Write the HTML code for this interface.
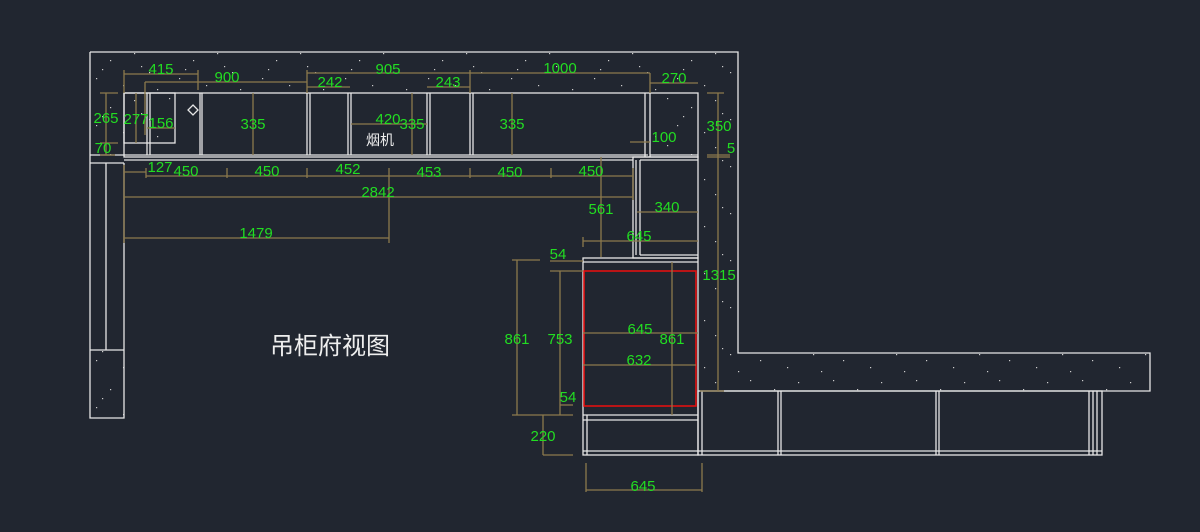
<!DOCTYPE html>
<html><head><meta charset="utf-8"><style>
html,body{margin:0;padding:0;background:#212630;}
svg{display:block}
text{font-family:"Liberation Sans","Noto Sans CJK SC",sans-serif;}
.g{fill:#22dd22;font-size:15px;text-anchor:middle}
.w{stroke:#e6e6e6;stroke-width:1.3;fill:none}
.d{stroke:#8c7a4c;stroke-width:1.3;fill:none}
</style></head><body>
<svg width="1200" height="532" viewBox="0 0 1200 532" xmlns="http://www.w3.org/2000/svg">
<defs>
<pattern id="sp" width="83" height="47" patternUnits="userSpaceOnUse">
<rect x="3" y="4" width="1.2" height="1.2" fill="#ccc"/>
<rect x="27" y="13" width="1.2" height="1.2" fill="#ccc"/>
<rect x="51" y="6" width="1.2" height="1.2" fill="#ccc"/>
<rect x="13" y="31" width="1.2" height="1.2" fill="#ccc"/>
<rect x="40" y="38" width="1.2" height="1.2" fill="#ccc"/>
<rect x="66" y="25" width="1.2" height="1.2" fill="#ccc"/>
<rect x="74" y="42" width="1.2" height="1.2" fill="#ccc"/>
<rect x="58" y="19" width="1.2" height="1.2" fill="#ccc"/>
<rect x="19" y="22" width="1.2" height="1.2" fill="#ccc"/>
</pattern>
</defs>
<rect width="1200" height="532" fill="#212630"/>
<path d="M90,52 H738 V353 H1150 V391 H698 V93 H124 V155 H90 Z" fill="url(#sp)"/>
<rect x="90" y="350" width="34" height="68" fill="url(#sp)"/>
<rect x="124" y="93" width="51" height="50" fill="url(#sp)"/>
<rect x="650" y="93" width="48" height="64" fill="url(#sp)"/>
<path class="w" d="M90,52 H738 V353 H1150 V391 H700"/>
<path class="w" d="M90,52 V418 H124 V163"/>
<line class="w" x1="106" y1="163" x2="106" y2="350"/>
<line class="w" x1="90" y1="350" x2="124" y2="350"/>
<line class="w" x1="90" y1="163" x2="124" y2="163"/>
<line class="w" x1="90" y1="155" x2="124" y2="155"/>
<rect class="w" x="124" y="93" width="574" height="64"/>
<line class="w" x1="124" y1="155" x2="648" y2="155"/>
<line class="w" x1="124" y1="160" x2="633" y2="160"/>
<rect class="w" x="124" y="93" width="51" height="50"/>
<g class="w">
<line x1="147" y1="93" x2="147" y2="155"/><line x1="150" y1="93" x2="150" y2="155"/>
<line x1="200" y1="93" x2="200" y2="155"/><line x1="202" y1="93" x2="202" y2="155"/>
<line x1="307" y1="93" x2="307" y2="155"/><line x1="310" y1="93" x2="310" y2="155"/>
<line x1="348" y1="93" x2="348" y2="155"/><line x1="351" y1="93" x2="351" y2="155"/>
<line x1="427" y1="93" x2="427" y2="155"/><line x1="430" y1="93" x2="430" y2="155"/>
<line x1="470" y1="93" x2="470" y2="155"/><line x1="473" y1="93" x2="473" y2="155"/>
<line x1="645" y1="93" x2="645" y2="157"/><line x1="650" y1="93" x2="650" y2="157"/>
<line x1="650" y1="155" x2="698" y2="155"/>
</g>
<path class="w" d="M193,105 L198,110 L193,115 L188,110 Z"/>
<rect class="w" x="633" y="157" width="65" height="101"/>
<line class="w" x1="636" y1="160" x2="636" y2="255"/>
<line class="w" x1="640" y1="160" x2="640" y2="255"/>
<line class="w" x1="640" y1="160" x2="698" y2="160"/>
<line class="w" x1="640" y1="255" x2="698" y2="255"/>
<rect class="w" x="583" y="258" width="115" height="197"/>
<line class="w" x1="583" y1="262" x2="698" y2="262"/>
<line class="w" x1="583" y1="415" x2="698" y2="415"/>
<line class="w" x1="583" y1="420" x2="698" y2="420"/>
<line class="w" x1="587" y1="415" x2="587" y2="455"/>
<line class="w" x1="583" y1="451" x2="1102" y2="451"/>
<rect x="584" y="271" width="112" height="135" fill="none" stroke="#e01010" stroke-width="1.6"/>
<rect class="w" x="698" y="391" width="404" height="64"/>
<g class="w">
<line x1="702" y1="391" x2="702" y2="455"/>
<line x1="778" y1="391" x2="778" y2="455"/><line x1="781" y1="391" x2="781" y2="455"/>
<line x1="936" y1="391" x2="936" y2="455"/><line x1="939" y1="391" x2="939" y2="455"/>
<line x1="1089" y1="391" x2="1089" y2="455"/><line x1="1093" y1="391" x2="1093" y2="455"/><line x1="1097" y1="391" x2="1097" y2="455"/>
</g>
<g class="d">
<line x1="124" y1="74" x2="198" y2="74"/><line x1="124" y1="70" x2="124" y2="93"/><line x1="198" y1="70" x2="198" y2="90"/>
<line x1="145" y1="82" x2="307" y2="82"/><line x1="145" y1="82" x2="145" y2="135"/>
<line x1="307" y1="73" x2="470" y2="73"/><line x1="307" y1="70" x2="307" y2="93"/>
<line x1="307" y1="87" x2="350" y2="87"/><line x1="427" y1="87" x2="470" y2="87"/>
<line x1="470" y1="73" x2="650" y2="73"/><line x1="470" y1="70" x2="470" y2="93"/>
<line x1="650" y1="83" x2="698" y2="83"/><line x1="650" y1="73" x2="650" y2="93"/>
<line x1="106" y1="93" x2="106" y2="155"/><line x1="100" y1="93" x2="118" y2="93"/><line x1="100" y1="143" x2="118" y2="143"/><line x1="100" y1="155" x2="115" y2="155"/>
<line x1="136" y1="93" x2="136" y2="143"/>
<line x1="147" y1="128" x2="175" y2="128"/>
<line x1="253" y1="93" x2="253" y2="155"/>
<line x1="412" y1="93" x2="412" y2="155"/>
<line x1="512" y1="93" x2="512" y2="155"/>
<line x1="351" y1="124" x2="427" y2="124"/>
<line x1="630" y1="142" x2="650" y2="142"/>
<line x1="718" y1="93" x2="718" y2="391"/><line x1="707" y1="93" x2="724" y2="93"/><line x1="707" y1="155" x2="730" y2="155"/><line x1="707" y1="157" x2="730" y2="157"/><line x1="700" y1="391" x2="724" y2="391"/>
<line x1="124" y1="172" x2="146" y2="172"/>
<line x1="146" y1="176" x2="633" y2="176"/>
<line x1="124" y1="165" x2="124" y2="243"/>
<line x1="146" y1="168" x2="146" y2="178"/><line x1="227" y1="168" x2="227" y2="178"/><line x1="307" y1="168" x2="307" y2="178"/><line x1="389" y1="168" x2="389" y2="243"/><line x1="470" y1="168" x2="470" y2="178"/><line x1="551" y1="168" x2="551" y2="178"/><line x1="633" y1="168" x2="633" y2="200"/>
<line x1="124" y1="197" x2="633" y2="197"/>
<line x1="124" y1="238" x2="389" y2="238"/>
<line x1="601" y1="157" x2="601" y2="257"/>
<line x1="637" y1="212" x2="698" y2="212"/>
<line x1="583" y1="241" x2="698" y2="241"/><line x1="583" y1="237" x2="583" y2="247"/>
<line x1="550" y1="261" x2="583" y2="261"/><line x1="550" y1="271" x2="583" y2="271"/>
<line x1="517" y1="260" x2="517" y2="415"/><line x1="512" y1="260" x2="540" y2="260"/>
<line x1="560" y1="271" x2="560" y2="415"/>
<line x1="560" y1="405" x2="573" y2="405"/>
<line x1="512" y1="415" x2="573" y2="415"/>
<line x1="543" y1="415" x2="543" y2="455"/><line x1="543" y1="455" x2="573" y2="455"/>
<line x1="583" y1="333" x2="698" y2="333"/>
<line x1="583" y1="365" x2="696" y2="365"/>
<line x1="672" y1="262" x2="672" y2="415"/>
<line x1="586" y1="490" x2="702" y2="490"/><line x1="586" y1="463" x2="586" y2="492"/><line x1="702" y1="463" x2="702" y2="492"/>
</g>
<g class="g">
<text x="161" y="74">415</text><text x="227" y="82">900</text><text x="388" y="74">905</text>
<text x="330" y="87">242</text><text x="448" y="87">243</text><text x="560" y="73">1000</text><text x="674" y="83">270</text>
<text x="106" y="123">265</text><text x="103" y="153">70</text><text x="136" y="124">277</text><text x="161" y="128">156</text>
<text x="253" y="129">335</text><text x="388" y="124">420</text><text x="412" y="129">335</text><text x="512" y="129">335</text>
<text x="664" y="142">100</text><text x="719" y="131">350</text><text x="731" y="153">5</text>
<text x="160" y="172">127</text><text x="186" y="176">450</text><text x="267" y="176">450</text><text x="348" y="174">452</text>
<text x="429" y="177">453</text><text x="510" y="177">450</text><text x="591" y="176">450</text>
<text x="378" y="197">2842</text><text x="256" y="238">1479</text>
<text x="601" y="214">561</text><text x="667" y="212">340</text><text x="639" y="241">645</text>
<text x="558" y="259">54</text><text x="719" y="280">1315</text>
<text x="517" y="344">861</text><text x="560" y="344">753</text>
<text x="640" y="334">645</text><text x="672" y="344">861</text><text x="639" y="365">632</text>
<text x="568" y="402">54</text><text x="543" y="441">220</text><text x="643" y="491">645</text>
</g>
<text x="380" y="145" fill="#eee" font-size="14" text-anchor="middle">烟机</text>
<text x="330" y="354" fill="#eee" font-size="24" text-anchor="middle">吊柜府视图</text>
</svg>
</body></html>
